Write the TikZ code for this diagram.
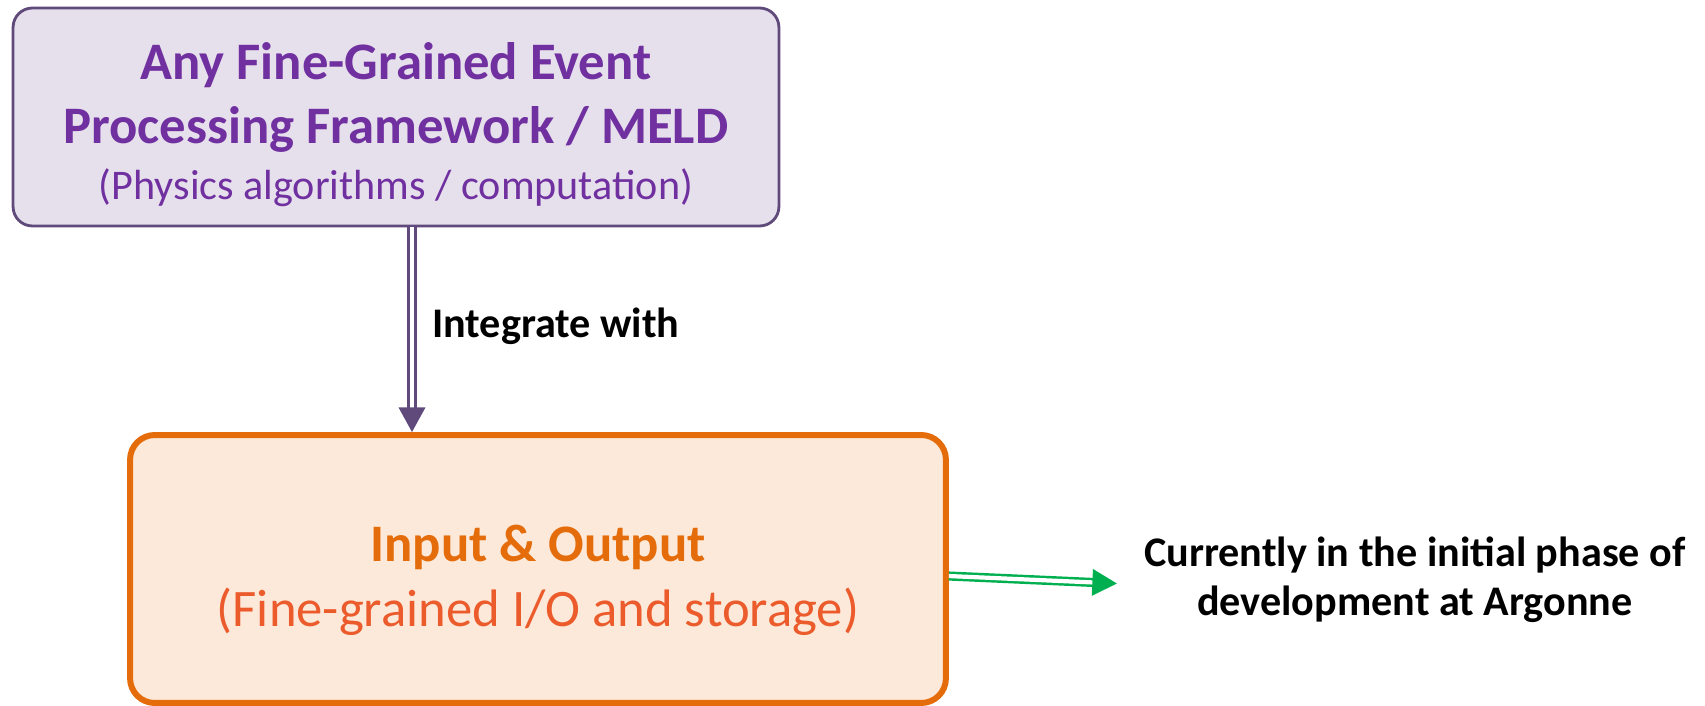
\documentclass[tikz,border=0pt]{standalone}
\usepackage{fontspec}
\setmainfont{Carlito}
\usetikzlibrary{arrows.meta, positioning}
\definecolor{meldfill}{HTML}{E6E0EC}
\definecolor{melddraw}{HTML}{604A7B}
\definecolor{meldtext}{HTML}{7030A0}
\definecolor{iofill}{HTML}{FDE9D9}
\definecolor{iodraw}{HTML}{E46C0A}
\definecolor{iosub}{HTML}{EB5B2B}
\definecolor{notegreen}{HTML}{00B050}

\begin{document}
\begin{tikzpicture}[
    x=0.02cm, y=-0.02cm,
    meldbox/.style={rectangle, rounded corners=11pt, draw=melddraw, fill=meldfill,
                    line width=1.6pt, minimum width=15.32cm, minimum height=4.36cm,
                    align=center, text=meldtext, inner sep=0pt,
                    font=\fontsize{30}{36}\selectfont},
    iobox/.style={rectangle, rounded corners=14pt, draw=iodraw, fill=iofill,
                  line width=3.4pt, minimum width=16.32cm, minimum height=5.36cm,
                  align=center, inner sep=0pt, font=\fontsize{30}{37}\selectfont},
    flow/.style={double=white, double distance=2.4pt, line width=1.4pt,
                 -{Triangle[length=14pt, width=15pt]}},
    label_s/.style={font=\fontsize{24}{28}\selectfont\bfseries, align=center},
]
\useasboundingbox (0,0) rectangle (1705,706);

\node[meldbox] (meld) at (396,117)
  {\rule{0pt}{30pt}\bfseries Any Fine-Grained Event\\
   \bfseries Processing Framework / MELD\\[-4pt]
   \fontsize{24}{31}\selectfont (Physics algorithms / computation)};
\node[iobox] (io) at (538,569)
  {\rule{0pt}{34pt}\bfseries\color{iodraw} Input \& Output\\
   \color{iosub} (Fine-grained I/O and storage)};
\node[label_s, anchor=west] (integ) at (426,326) {Integrate with};
\node[label_s, anchor=west] (note) at (1138,580)
  {Currently in the initial phase of\\development at Argonne};

\draw[flow, draw=melddraw] (meld.south -| 412,0) -- (io.north -| 412,0);
\draw[flow, draw=notegreen] ([yshift=-4pt]io.east) -- ([xshift=-12pt, yshift=-2pt]note.west);
\end{tikzpicture}
\end{document}
